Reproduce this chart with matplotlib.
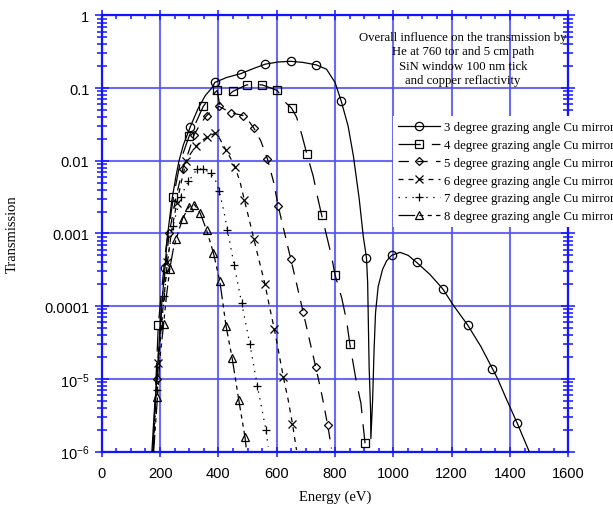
"""
Transmission through He path, SiN window and Cu mirror at several
grazing angles. Log-scale line chart, saved to out.png.
"""

import matplotlib
matplotlib.use("Agg")
import matplotlib.pyplot as plt
from matplotlib.lines import Line2D
from matplotlib.ticker import FixedLocator, FixedFormatter, MultipleLocator, LogLocator, NullFormatter

# ---- data (energy in eV, transmission) ----
E3 = [172, 180, 189, 197, 205, 217, 225, 240, 255, 265, 280, 303, 330, 355, 377, 388, 428, 476, 520,
      561, 605, 648, 690, 736, 771, 800, 821, 845, 863, 883, 897, 908, 912, 914, 917, 922, 923, 929,
      934, 939, 948, 963, 977, 994, 1023, 1051, 1080, 1125, 1169, 1208, 1255, 1300, 1340, 1358, 1385,
      1425, 1466]
T3 = [1e-6, 3.5e-6, 1e-5, 3.2e-5, 1e-4, 3.4e-4, 9e-4, 2.8e-3, 6.3e-3, 1e-2, 1.66e-2, 0.029, 0.052,
      0.079, 0.1, 0.12, 0.14, 0.158, 0.186, 0.214, 0.229, 0.234, 0.226, 0.209, 0.182, 0.12, 0.067,
      0.030, 0.0117, 0.003, 9.1e-4, 4.6e-4, 2.1e-4, 7.2e-5, 1.48e-5, 3.7e-6, 1.5e-6, 5.1e-6, 2.5e-5,
      8.1e-5, 1.86e-4, 3.2e-4, 4.2e-4, 5.0e-4, 5.5e-4, 5.0e-4, 4.0e-4, 2.75e-4, 1.74e-4, 1e-4,
      5.5e-5, 2.8e-5, 1.38e-5, 1e-5, 5.6e-6, 2.45e-6, 1e-6]
E3_mk = [217, 303, 388, 476, 561, 648, 736, 821, 908, 994, 1080, 1169, 1255, 1340, 1425]
T3_mk = [3.4e-4, 0.029, 0.12, 0.158, 0.214, 0.234, 0.209, 0.067, 4.6e-4, 5.0e-4, 4.0e-4, 1.74e-4,
         5.5e-5, 1.38e-5, 2.45e-6]

E4 = [176, 186, 194, 205, 220, 246, 270, 300, 325, 348, 372, 396, 404, 449, 497, 550, 602, 631, 651,
      668, 686, 703, 725, 740, 754, 788, 800, 823, 840, 851, 874, 889, 897, 903]
T4 = [1e-6, 1e-5, 5.5e-5, 1.6e-4, 6.3e-4, 3.2e-3, 0.01, 0.022, 0.035, 0.056, 0.075, 0.093, 0.06, 0.09,
      0.111, 0.111, 0.093, 0.063, 0.053, 0.04, 0.023, 0.0126, 0.0062, 0.0032, 0.0018, 4.9e-4, 2.7e-4,
      1.3e-4, 6.2e-5, 3.0e-5, 8.7e-6, 4.6e-6, 2.2e-6, 1.3e-6]
E4_mk = [194, 246, 300, 348, 396, 449, 497, 550, 602, 651, 703, 754, 800, 851, 903]
T4_mk = [5.5e-5, 3.2e-3, 0.022, 0.056, 0.093, 0.09, 0.111, 0.111, 0.093, 0.053, 0.0126, 0.0018,
         2.7e-4, 3.0e-5, 1.3e-6]

E5 = [176, 188, 197, 210, 231, 255, 277, 300, 317, 340, 360, 380, 403, 442, 485, 505, 522, 545, 568,
      590, 605, 625, 648, 670, 691, 712, 734, 755, 775, 788]
T5 = [1e-6, 1e-5, 3.2e-5, 1.6e-4, 1e-3, 3.2e-3, 7.6e-3, 0.0141, 0.023, 0.033, 0.042, 0.05, 0.056,
      0.046, 0.042, 0.035, 0.028, 0.019, 0.0107, 0.005, 0.0024, 1.1e-3, 4.5e-4, 1.9e-4, 8.2e-5,
      3.5e-5, 1.45e-5, 6e-6, 2.3e-6, 1.1e-6]
E5_mk = [188, 231, 277, 317, 360, 403, 442, 485, 522, 568, 605, 648, 691, 734, 775]
T5_mk = [1e-5, 1e-3, 7.6e-3, 0.023, 0.042, 0.056, 0.046, 0.042, 0.028, 0.0107, 0.0024, 4.5e-4,
         8.2e-5, 1.45e-5, 2.3e-6]

E6 = [176, 186, 194, 208, 225, 240, 257, 275, 290, 305, 323, 340, 360, 388, 405, 426, 440, 457, 475,
      489, 505, 522, 540, 560, 575, 592, 608, 623, 640, 654, 668]
T6 = [1e-6, 6.3e-6, 1.66e-5, 7.9e-5, 4e-4, 1.12e-3, 2.6e-3, 5.6e-3, 0.01, 0.0126, 0.0158, 0.0186,
      0.021, 0.024, 0.02, 0.0141, 0.0112, 0.0083, 0.005, 0.0029, 1.6e-3, 8.3e-4, 4.2e-4, 2.0e-4,
      1e-4, 4.8e-5, 2.2e-5, 1.05e-5, 5e-6, 2.4e-6, 1.05e-6]
E6_mk = [194, 225, 257, 290, 323, 360, 388, 426, 457, 489, 522, 560, 592, 623, 654]
T6_mk = [1.66e-5, 4e-4, 2.6e-3, 0.01, 0.0158, 0.021, 0.024, 0.0141, 0.0083, 0.0029, 8.3e-4, 2.0e-4,
         4.8e-5, 1.05e-5, 2.4e-6]

E7 = [177, 188, 200, 214, 230, 244, 257, 271, 285, 297, 326, 348, 373, 390, 403, 418, 431, 454, 480,
      508, 534, 563, 571]
T7 = [1e-6, 7.1e-6, 3.2e-5, 1.38e-4, 5.6e-4, 1.26e-3, 2e-3, 3.2e-3, 4.2e-3, 5.2e-3, 7.6e-3, 7.8e-3,
      6.8e-3, 5.4e-3, 3.8e-3, 2.1e-3, 1.12e-3, 3.7e-4, 1.1e-4, 3.0e-5, 7.9e-6, 2.0e-6, 1.17e-6]
E7_mk = [188, 214, 244, 271, 297, 326, 348, 373, 403, 431, 454, 480, 508, 534, 563]
T7_mk = [7.1e-6, 1.38e-4, 1.26e-3, 3.2e-3, 5.2e-3, 7.6e-3, 7.8e-3, 6.8e-3, 3.8e-3, 1.12e-3, 3.7e-4,
         1.1e-4, 3.0e-5, 7.9e-6, 2.0e-6]

E8 = [178, 191, 200, 212, 222, 233, 245, 255, 266, 277, 298, 318, 338, 360, 383, 405, 426, 447, 470,
      491, 497]
T8 = [1e-6, 5.6e-6, 2.0e-5, 5.6e-5, 1.4e-4, 3.2e-4, 6e-4, 8.3e-4, 1.15e-3, 1.6e-3, 2.3e-3, 2.5e-3,
      1.9e-3, 1.1e-3, 5.4e-4, 2.2e-4, 5.4e-5, 1.95e-5, 5.1e-6, 1.6e-6, 1e-6]
E8_mk = [191, 212, 233, 255, 277, 298, 318, 338, 360, 383, 405, 426, 447, 470, 491]
T8_mk = [5.6e-6, 5.6e-5, 3.2e-4, 8.3e-4, 1.6e-3, 2.3e-3, 2.5e-3, 1.9e-3, 1.1e-3, 5.4e-4, 2.2e-4,
         5.4e-5, 1.95e-5, 5.1e-6, 1.6e-6]

ANGLES = [3, 4, 5, 6, 7, 8]
Y_TICKS = [1e-6, 1e-5, 1e-4, 1e-3, 1e-2, 1e-1, 1]
Y_TICK_LABELS = [r"$\mathregular{10^{-6}}$", r"$\mathregular{10^{-5}}$", "0.0001", "0.001",
                 "0.01", "0.1", "1"]
NOTE = ("Overall influence on the transmission by\nHe at 760 tor and 5 cm path\n"
        "SiN window 100 nm tick\nand copper reflactivity")

SPINE_BLUE = "#1414ff"
GRID_BLUE = "#5050f0"
SERIF = "Liberation Serif"
SANS = "Liberation Sans"

plt.rcParams["lines.scale_dashes"] = False
plt.rcParams["mathtext.default"] = "regular"

# (line style, marker, marker size) per curve
STYLES = {
    3: ("-", "o", 6.0),
    4: ((0, (16, 8)), "s", 5.5),
    5: ((0, (7.5, 6)), "D", 3.8),
    6: ((0, (3.6, 3.6)), "x", 5.5),
    7: ((0, (1, 4)), "+", 6.0),
    8: ((0, (12, 3, 3, 3, 3, 3)), "^", 5.5),
}

curves = {
    3: (E3, T3, E3_mk, T3_mk),
    4: (E4, T4, E4_mk, T4_mk),
    5: (E5, T5, E5_mk, T5_mk),
    6: (E6, T6, E6_mk, T6_mk),
    7: (E7, T7, E7_mk, T7_mk),
    8: (E8, T8, E8_mk, T8_mk),
}

fig = plt.figure(figsize=(6.13, 5.10), dpi=100)
ax = fig.add_axes([0.166, 0.1127, 0.761, 0.855])

handles = []
for ang in ANGLES:
    e, t, em, tm = curves[ang]
    ls, mk, ms = STYLES[ang]
    ax.plot(e, t, color="black", lw=0.9, ls=ls, zorder=3)
    ax.plot(em, tm, ls="none", marker=mk, ms=ms, mfc="none", mec="black", mew=0.9, zorder=4)
    handles.append(Line2D([], [], color="black", lw=0.9, ls=ls, marker=mk, ms=ms,
                          mfc="none", mec="black", mew=0.9,
                          label=f"{ang} degree grazing angle Cu mirror"))

ax.set_yscale("log")
ax.set_xlim(0, 1600)
ax.set_ylim(1e-6, 1)

ax.xaxis.set_major_locator(MultipleLocator(200))
ax.xaxis.set_minor_locator(MultipleLocator(50))
ax.yaxis.set_major_locator(FixedLocator(Y_TICKS))
ax.yaxis.set_major_formatter(FixedFormatter(Y_TICK_LABELS))
ax.yaxis.set_minor_locator(LogLocator(base=10, subs=range(2, 10), numticks=20))
ax.yaxis.set_minor_formatter(NullFormatter())

ax.grid(True, which="major", color=GRID_BLUE, lw=1.5, alpha=0.85)
ax.set_axisbelow(True)
for sp in ax.spines.values():
    sp.set_color(SPINE_BLUE)
    sp.set_linewidth(1.6)

ax.tick_params(axis="y", which="major", direction="inout", left=True, right=True,
               length=9.4, width=1.1, color=SPINE_BLUE, pad=4.3, labelsize=10.5)
ax.tick_params(axis="y", which="minor", direction="inout", left=True, right=True,
               length=7.2, width=1.1, color=SPINE_BLUE)
ax.tick_params(axis="x", which="major", direction="inout", top=True, bottom=True,
               length=7.2, width=1.1, color=SPINE_BLUE, pad=6.8, labelsize=10.5)
ax.tick_params(axis="x", which="minor", direction="in", top=True, bottom=True,
               length=3, width=1.1, color=SPINE_BLUE)
for lab in ax.get_xticklabels() + ax.get_yticklabels():
    lab.set_fontfamily(SANS)

ax.set_xlabel("Energy (eV)", family=SERIF, fontsize=10.5)
ax.set_ylabel("Transmission", family=SERIF, fontsize=10.5)
ax.xaxis.set_label_coords(0.5, -0.086)
ax.yaxis.set_label_coords(-0.177, 0.5)

ax.text(0.774, 0.901, NOTE, transform=ax.transAxes, ha="center", va="center",
        family=SERIF, fontsize=9.2, linespacing=1.28, zorder=5)

leg = ax.legend(handles=handles, loc="upper left", bbox_to_anchor=(0.624, 0.769),
                prop={"family": SERIF, "size": 9.2}, frameon=True, framealpha=1,
                edgecolor="none", facecolor="white", fancybox=False, borderpad=0.4,
                handlelength=3.3, handletextpad=0.3, labelspacing=0.45, borderaxespad=0)
leg.set_zorder(6)

fig.savefig("out.png", dpi=100)
